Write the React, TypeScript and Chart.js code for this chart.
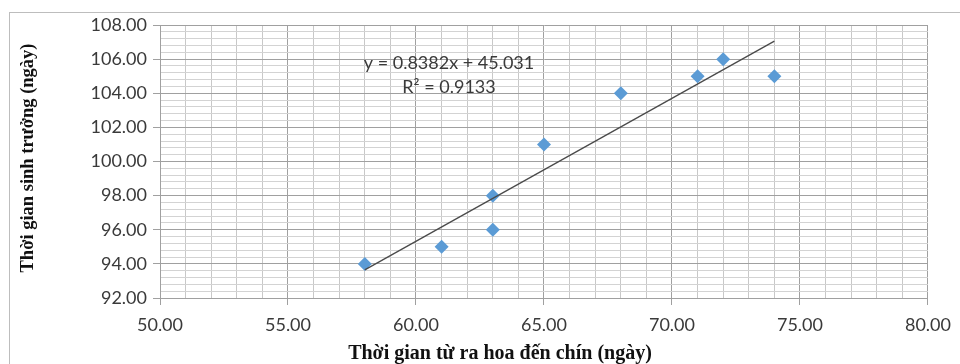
import React, { useEffect, useRef } from "react";
import { Chart, registerables } from "chart.js";

Chart.register(...registerables);

// ---- data ----
const xValues = [58, 61, 63, 63, 65, 68, 71, 72, 74];
const yValues = [94, 95, 96, 98, 101, 104, 105, 106, 105];
const trendSlope = 0.8382;
const trendIntercept = 45.031;
const equationLabel = "y = 0.8382x + 45.031";
const r2Label = "R\u00B2 = 0.9133";
const xTitle = "Thời gian từ ra hoa đến chín (ngày)";
const yTitle = "Thời gian sinh trưởng (ngày)";
const xMin = 50, xMax = 80, xMajor = 5, xMinor = 1;
const yMin = 92, yMax = 108, yMajor = 2, yMinor = 0.4;

const isMajor = (v: number, step: number) => Math.abs(v / step - Math.round(v / step)) < 1e-6;

const textPlugin = {
  id: "extraText",
  afterDraw(chart: any) {
    const ctx = chart.ctx;
    ctx.save();
    // trendline equation
    ctx.fillStyle = "#3a3a3a";
    ctx.font = "18px Lato, 'Open Sans', sans-serif";
    ctx.textAlign = "center";
    ctx.textBaseline = "middle";
    ctx.fillText(equationLabel, 449, 63);
    ctx.fillText(r2Label, 449, 87);
    // axis titles
    ctx.fillStyle = "#111";
    ctx.font = "bold 20px 'Liberation Serif', 'Times New Roman', serif";
    ctx.fillText(xTitle, 500, 354);
    ctx.font = "bold 18.5px 'Liberation Serif', 'Times New Roman', serif";
    ctx.translate(28, 158);
    ctx.rotate(-Math.PI / 2);
    ctx.fillText(yTitle, 0, 0);
    ctx.restore();
  },
};

export default function App() {
  const ref = useRef<HTMLCanvasElement>(null);
  useEffect(() => {
    if (!ref.current) return;
    const points = xValues.map((x, i) => ({ x, y: yValues[i] }));
    const tMin = Math.min(...xValues);
    const tMax = Math.max(...xValues);
    const trend = [
      { x: tMin, y: trendSlope * tMin + trendIntercept },
      { x: tMax, y: trendSlope * tMax + trendIntercept },
    ];
    const tickFont = { family: "Lato, 'Open Sans', sans-serif", size: 18 };
    const chart = new Chart(ref.current, {
      type: "scatter",
      data: {
        datasets: [
          {
            type: "line",
            data: trend,
            borderColor: "#4a4a4a",
            borderWidth: 1.3,
            pointRadius: 0,
            fill: false,
          } as any,
          {
            data: points,
            pointStyle: "rectRot",
            pointRadius: 7,
            pointBackgroundColor: "#5B9BD5",
            pointBorderColor: "#5B9BD5",
            pointBorderWidth: 0,
          },
        ],
      },
      options: {
        animation: false,
        responsive: false,
        maintainAspectRatio: false,
        layout: { padding: { left: 0, right: 28, top: 25, bottom: 0 } },
        plugins: { legend: { display: false }, tooltip: { enabled: false } },
        scales: {
          x: {
            type: "linear",
            min: xMin,
            max: xMax,
            afterFit: (s: any) => { s.height = 66; },
            border: { display: true, color: "#a0a0a0", width: 1 },
            grid: {
              color: (c: any) => (isMajor(c.tick.value, xMajor) ? "#a0a0a0" : "#c8c8c8"),
              lineWidth: 1,
              tickLength: 7,
              tickColor: (c: any) => (isMajor(c.tick.value, xMajor) ? "#a0a0a0" : "rgba(0,0,0,0)"),
            },
            ticks: {
              stepSize: xMinor,
              autoSkip: false,
              maxRotation: 0,
              maxTicksLimit: 200,
              padding: 9,
              color: "#3a3a3a",
              font: tickFont,
              callback: (v: any) => (isMajor(Number(v), xMajor) ? Number(v).toFixed(2) : ""),
            },
          },
          y: {
            type: "linear",
            min: yMin,
            max: yMax,
            afterFit: (s: any) => { s.width = 160; },
            border: { display: true, color: "#a0a0a0", width: 1 },
            grid: {
              color: (c: any) => (isMajor(c.tick.value, yMajor) ? "#a0a0a0" : "#d3d3d3"),
              lineWidth: 1,
              tickLength: 7,
              tickColor: (c: any) => (isMajor(c.tick.value, yMajor) ? "#a0a0a0" : "rgba(0,0,0,0)"),
            },
            ticks: {
              stepSize: yMinor,
              autoSkip: false,
              maxTicksLimit: 200,
              padding: 6,
              color: "#3a3a3a",
              font: tickFont,
              callback: (v: any) => (isMajor(Number(v), yMajor) ? Number(v).toFixed(2) : ""),
            },
          },
        },
      },
      plugins: [textPlugin],
    } as any);
    return () => chart.destroy();
  }, []);
  return (
    <div style={{ position: "absolute", left: 0, top: 0, width: 960, height: 364, background: "#fff", overflow: "hidden" }}>
      <div
        style={{
          position: "absolute",
          left: 9,
          top: 12,
          right: -2,
          bottom: -2,
          borderLeft: "1px solid #bdbdbd",
          borderTop: "1px solid #bdbdbd",
        }}
      />
      <canvas ref={ref} width={960} height={364} style={{ position: "absolute", left: 0, top: 0, width: 960, height: 364 }} />
    </div>
  );
}
